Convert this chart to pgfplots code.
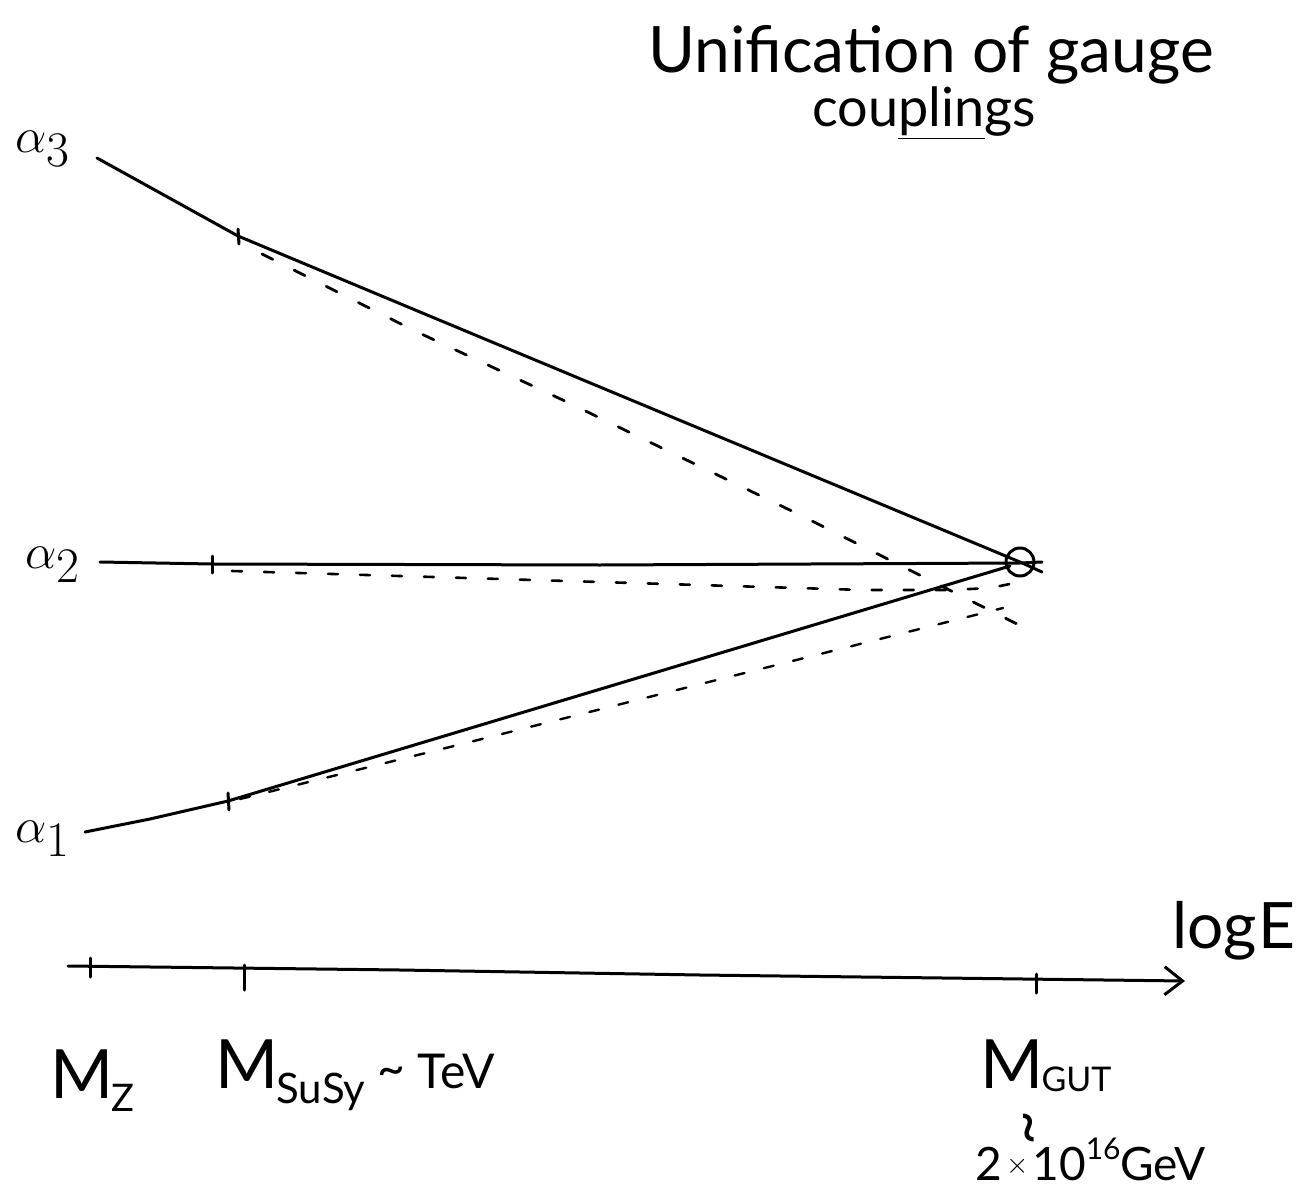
\documentclass[border=0pt]{standalone}
\usepackage{pgfplots}
\pgfplotsset{compat=1.18}
\usepackage{fontspec}
\setmainfont{Lato}
\usetikzlibrary{arrows.meta}

\begin{document}
\begin{tikzpicture}
\begin{axis}[
  scale only axis,
  width=654pt, height=597pt,
  xmin=0, xmax=1308, ymin=0, ymax=1194,
  y dir=reverse,
  hide axis, clip=false,
  cycle list={{black, mark=none}},
  every axis plot/.append style={line width=1.5pt, line cap=round, line join=round},
]
% keep the whole sheet as the picture's extent
\path (axis cs:0,0) rectangle (axis cs:1308,1194);

% --- running couplings, supersymmetric case (solid) ---
\addplot coordinates {(97,158) (238,236) (420,312) (1020,562) (1042,572)};
\addplot coordinates {(100,562) (212,564) (600,565) (1020,563) (1042,562)};
\addplot coordinates {(85,832) (150,819) (228,801) (1010,566)};

% --- Standard Model continuation (dashed) ---
\addplot[black, line width=1.4pt, dash pattern=on 6pt off 12pt] coordinates {(262,254) (413,330) (567,402) (800,515) (1035,633)};
\addplot[black, line width=1.3pt, dash pattern=on 5pt off 11pt] coordinates {(232,571) (400,576) (600,582) (863,590) (950,590) (990,588) (1020,582)};
\addplot[black, line width=1.2pt, dash pattern=on 5pt off 10pt] coordinates {(240,799) (458,745) (860,644) (1003,608)};

% --- thresholds on each coupling ---
\addplot coordinates {(238,229) (239,244)};
\addplot coordinates {(212,556) (212,573)};
\addplot coordinates {(228,793) (229,810)};

% --- unification point ---
\addplot[black, only marks, mark=o, mark size=7pt, mark options={line width=1.5pt}] coordinates {(1020,562)};

% --- energy axis ---
\addplot[black, -{Straight Barb[length=9pt, width=14pt, line width=1.5pt]}] coordinates {(68,966) (400,970) (700,975) (1185,981)};
\addplot coordinates {(90,958) (90,977)};
\addplot coordinates {(244,965) (244,990)};
\addplot coordinates {(1036,974) (1036,993)};

% --- labels ---
\node[anchor=base west, inner sep=0pt, font=\fontsize{32}{36}\selectfont] at (axis cs:648,72) {Unification of gauge};
\node[anchor=base west, inner sep=0pt, font=\fontsize{27}{30}\selectfont] at (axis cs:812,126) {cou\underline{plin}gs};

\node[anchor=base west, inner sep=0pt, font=\fontsize{34}{38}\selectfont] at (axis cs:15,152) {$\alpha_3$};
\node[anchor=base west, inner sep=0pt, font=\fontsize{34}{38}\selectfont] at (axis cs:25,568) {$\alpha_2$};
\node[anchor=base west, inner sep=0pt, font=\fontsize{34}{38}\selectfont] at (axis cs:15,842) {$\alpha_1$};

\node[anchor=base west, inner sep=0pt, font=\fontsize{32}{36}\selectfont] at (axis cs:1172,948) {log\kern1ptE};

\node[anchor=base west, inner sep=0pt, font=\fontsize{34}{38}\selectfont] at (axis cs:50,1098) {M\kern-1pt\raisebox{-0.4ex}{\fontsize{19}{22}\selectfont Z}};
\node[anchor=base west, inner sep=0pt, font=\fontsize{34}{38}\selectfont] at (axis cs:215,1088) {M\kern-1pt\raisebox{-0.45ex}{\fontsize{21}{24}\selectfont SuSy}\fontsize{24}{28}\selectfont\ \raisebox{0.1ex}{\textasciitilde}\ TeV};
\node[anchor=base west, inner sep=0pt, font=\fontsize{34}{38}\selectfont] at (axis cs:980,1088) {M\kern-1pt\raisebox{-0.1ex}{\fontsize{17}{20}\selectfont GUT}};
\node[inner sep=0pt, rotate=90, font=\fontsize{30}{32}\selectfont] at (axis cs:1035,1128) {\textasciitilde};
\node[anchor=base west, inner sep=0pt, font=\fontsize{23}{26}\selectfont] at (axis cs:975,1180) {2\kern2pt\raisebox{0.3ex}{\fontsize{14}{16}\selectfont$\times$}\kern2pt10\raisebox{0.9ex}{\fontsize{15}{17}\selectfont 16}GeV};
\end{axis}
\end{tikzpicture}
\end{document}
